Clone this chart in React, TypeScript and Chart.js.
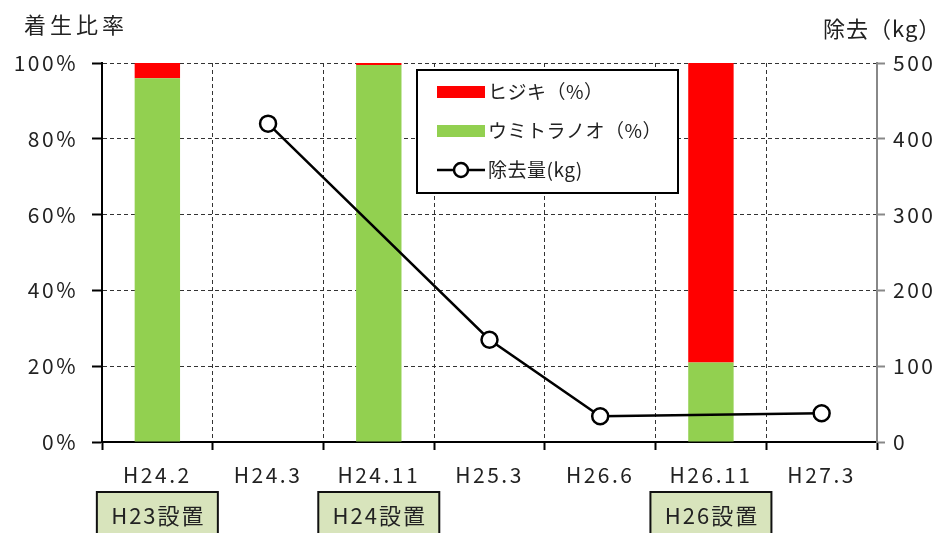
import { useEffect, useRef } from "react";
import { Chart, registerables } from "chart.js";

Chart.register(...registerables);

const categories = ["H24.2", "H24.3", "H24.11", "H25.3", "H26.6", "H26.11", "H27.3"];
const umitoranooPct = [96, null, 99.5, null, null, 21, null];
const hijikiPct = [4, null, 0.5, null, null, 79, null];
const removedKg = [null, 420, null, 135, 34, null, 38];
const installIndex = [0, 2, 5];
const installText = ["H23設置", "H24設置", "H26設置"];

const leftTitle = "着生比率";
const rightTitle = "除去（kg）";
const labelHijiki = "ヒジキ（%）";
const labelUmi = "ウミトラノオ（%）";
const labelKg = "除去量(kg)";

const FONT = '"Noto Sans CJK JP", "Noto Sans", sans-serif';
const RED = "#ff0000";
const GREEN = "#92d050";

const spacingPlugin = {
  id: "spacing",
  beforeDraw(chart: any) {
    (chart.ctx as any).letterSpacing = "2.5px";
  },
};

const overlayPlugin = {
  id: "overlay",
  afterDraw(chart: any) {
    const ctx = chart.ctx as CanvasRenderingContext2D;
    const x = chart.scales.x;
    ctx.save();
    // axis titles
    ctx.fillStyle = "#222";
    ctx.textBaseline = "middle";
    ctx.textAlign = "left";
    ctx.font = `22px ${FONT}`;
    (ctx as any).letterSpacing = "4px";
    ctx.fillText(leftTitle, 24, 25);
    (ctx as any).letterSpacing = "1px";
    ctx.font = `22px ${FONT}`;
    ctx.fillText(rightTitle, 823, 29);

    // legend
    const lx = 417, ly = 70, lw = 261, lh = 123;
    ctx.fillStyle = "#fff";
    ctx.fillRect(lx, ly, lw, lh);
    ctx.strokeStyle = "#000";
    ctx.lineWidth = 2;
    ctx.strokeRect(lx, ly, lw, lh);
    const ds = chart.data.datasets;
    const items = [ds[1], ds[0], ds[2]];
    const rows = [92, 131, 170];
    ctx.font = `19px ${FONT}`;
    (ctx as any).letterSpacing = "0.5px";
    items.forEach((d: any, i: number) => {
      const y = rows[i];
      if (d.type === "line") {
        ctx.strokeStyle = "#000";
        ctx.lineWidth = 2.5;
        ctx.beginPath();
        ctx.moveTo(437, y);
        ctx.lineTo(485, y);
        ctx.stroke();
        ctx.beginPath();
        ctx.arc(461, y, 7, 0, Math.PI * 2);
        ctx.fillStyle = "#fff";
        ctx.fill();
        ctx.stroke();
      } else {
        ctx.fillStyle = d.backgroundColor;
        ctx.fillRect(437, y - 6, 48, 12);
      }
      ctx.fillStyle = "#222";
      ctx.textAlign = "left";
      ctx.fillText(d.label, 488, y);
    });

    // installation boxes
    (ctx as any).letterSpacing = "2px";
    installIndex.forEach((idx, i) => {
      const cx = x.getPixelForValue(idx);
      const w = 121, top = 492, h = 48;
      ctx.fillStyle = "#d8e4bc";
      ctx.fillRect(cx - w / 2, top, w, h);
      ctx.strokeStyle = "#111";
      ctx.lineWidth = 2;
      ctx.strokeRect(cx - w / 2, top, w, h);
      ctx.fillStyle = "#222";
      ctx.textAlign = "center";
      ctx.font = `22px ${FONT}`;
      ctx.fillText(installText[i], cx + 1, 516);
    });
    ctx.restore();
  },
};

export default function App() {
  const ref = useRef<HTMLCanvasElement>(null);
  useEffect(() => {
    document.body.style.margin = "0";
    const chart = new Chart(ref.current!, {
      type: "bar",
      data: {
        labels: categories,
        datasets: [
          {
            type: "bar",
            label: labelUmi,
            data: umitoranooPct,
            backgroundColor: GREEN,
            yAxisID: "y",
            stack: "s",
            barPercentage: 0.41,
            categoryPercentage: 1,
            order: 2,
          },
          {
            type: "bar",
            label: labelHijiki,
            data: hijikiPct,
            backgroundColor: RED,
            yAxisID: "y",
            stack: "s",
            barPercentage: 0.41,
            categoryPercentage: 1,
            order: 2,
          },
          {
            type: "line",
            label: labelKg,
            data: removedKg,
            yAxisID: "y1",
            borderColor: "#000",
            borderWidth: 2.5,
            pointRadius: 8,
            pointBorderWidth: 2.5,
            pointBackgroundColor: "#fff",
            pointBorderColor: "#000",
            spanGaps: true,
            order: 1,
          } as any,
        ],
      },
      options: {
        animation: false,
        responsive: true,
        maintainAspectRatio: false,
        layout: { padding: { top: 63, left: 0, right: 0, bottom: 0 } },
        plugins: { legend: { display: false }, tooltip: { enabled: false } },
        scales: {
          x: {
            stacked: true,
            afterFit: (s: any) => {
              s.height = 91;
            },
            grid: {
              offset: true,
              color: "#333",
              lineWidth: 1,
              tickLength: 8,
              tickColor: "#000",
              tickWidth: 2,
              tickBorderDash: [],
            },
            border: { display: true, color: "#000", width: 2, dash: [4, 3] },
            ticks: {
              color: "#222",
              font: { family: FONT, size: 21 },
              padding: 12,
              maxRotation: 0,
            },
          },
          y: {
            position: "left",
            stacked: true,
            min: 0,
            max: 100,
            afterFit: (s: any) => {
              s.width = 102;
            },
            ticks: {
              stepSize: 20,
              callback: (v: any) => v + "%",
              color: "#222",
              font: { family: FONT, size: 21 },
              padding: 14,
            },
            grid: {
              color: "#333",
              lineWidth: 1,
              tickLength: 10,
              tickColor: "#000",
              tickWidth: 2,
              tickBorderDash: [],
            },
            border: { display: true, color: "#000", width: 2, dash: [4, 3] },
          },
          y1: {
            position: "right",
            min: 0,
            max: 500,
            afterFit: (s: any) => {
              s.width = 72;
            },
            ticks: {
              stepSize: 100,
              color: "#222",
              font: { family: FONT, size: 21 },
              padding: 8,
            },
            grid: {
              drawOnChartArea: false,
              tickLength: 8,
              tickColor: "#888",
              tickWidth: 2,
            },
            border: { display: true, color: "#888", width: 2 },
          },
        },
      },
      plugins: [spacingPlugin, overlayPlugin],
    } as any);
    return () => chart.destroy();
  }, []);
  return (
    <div style={{ position: "fixed", left: 0, top: 0, width: 949, height: 533 }}>
      <canvas ref={ref} />
    </div>
  );
}
